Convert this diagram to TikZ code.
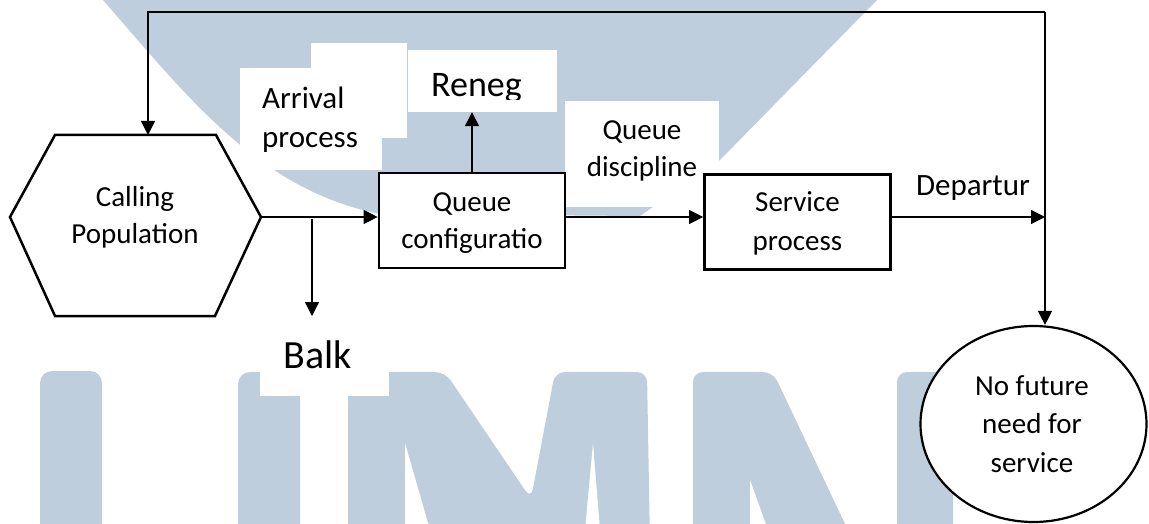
\documentclass[tikz,border=0pt]{standalone}
\usepackage{fontspec}
\setmainfont{Carlito}
\usetikzlibrary{arrows.meta,calc,shapes.geometric}
\definecolor{wm}{RGB}{191,206,220}
\begin{document}
\begin{tikzpicture}[x=1pt,y=-1pt,
  lbl/.style={font=\fontsize{29}{37}\selectfont, inner sep=0pt, align=center},
  procbox/.style={draw, line width=2.7pt, fill=white, inner sep=0pt},
  arr/.style={line width=1.3pt, -{Triangle[length=14pt,width=14pt]}},
  wbg/.style={fill=white}]
\useasboundingbox (0,0) rectangle (1149,524);
% watermark
\begin{scope}
\clip (0,0) rectangle (1149,524);
\fill[wm] (103,0) .. controls (190,100) and (260,190) .. (380,214) -- (640,216) -- (720,160) -- (877,0) -- cycle;
\fill[wm,rounded corners=12pt] (40,545) -- (40,371) -- (102,371) -- (102,545) -- cycle;
\fill[wm,rounded corners=12pt] (238,545) -- (238,372) -- (300,372) -- (300,545) -- cycle;
\fill[wm,rounded corners=10pt] (348,545) -- (348,372) -- (445,372) -- (531,499) -- (555,372) -- (647,372) -- (650,545) -- cycle;
\fill[white] (405,443) -- (405,530) -- (430,530) -- cycle;
\fill[white] (593,443) -- (585,530) -- (600,530) -- cycle;
\fill[wm,rounded corners=10pt] (693,545) -- (693,372) -- (773,372) -- (855,545) -- cycle;
\fill[white] (750,480) -- (750,530) -- (768,530) -- cycle;
\fill[wm,rounded corners=10pt] (897,545) -- (897,372) -- (953,372) -- (953,545) -- cycle;
\end{scope}
% label backgrounds
\fill[wbg] (311,43) rectangle (407,138);
\fill[wbg] (240,68) rectangle (382,170);
\fill[wbg] (565,101) rectangle (719,207);
\fill[wbg] (260,330) rectangle (389,396);
\node[wbg, minimum width=149pt, minimum height=62pt, inner sep=0pt] (renegbox) at (482.5,81) {};
% calling population hexagon
\coordinate (hW) at (10,217);
\coordinate (hNW) at (55,135);
\coordinate (hNE) at (216,135);
\coordinate (hE) at (261,217);
\coordinate (hSE) at (215,316);
\coordinate (hSW) at (55,316);
\draw[line width=2.5pt, fill=white, line join=miter] (hW) -- (hNW) -- (hNE) -- (hE) -- (hSE) -- (hSW) -- cycle;
\node[lbl, anchor=base] (calling) at (135,243) {Calling\\Population};
% boxes
\node[procbox, minimum width=186pt, minimum height=95pt] (qc) at (472,220.5) {};
\node[lbl, anchor=base] (qct) at (472,248) {Queue\\configuratio};
\node[procbox, minimum width=186pt, minimum height=95pt] (sp) at (797.5,222) {};
\node[lbl, anchor=base, font=\fontsize{29}{39}\selectfont] (spt) at (797.5,250) {Service\\process};
\node[draw, ellipse, line width=2.2pt, fill=white, minimum width=226pt, minimum height=196pt, inner sep=0pt] (nf) at (1033.5,424) {};
\node[lbl, anchor=base, font=\fontsize{29}{38.5}\selectfont] (nft) at (1032,472) {No future\\need for\\service};
% labels
\node[inner sep=0pt, anchor=base west, align=left, font=\fontsize{31}{39}\selectfont] (arrival) at (262,148) {Arrival\\process};
\node[lbl, anchor=base] (qd) at (642,177) {Queue\\discipline};
\node[inner sep=0pt, anchor=base, font=\fontsize{31}{39}\selectfont] (dep) at (973,195) {Departur};
\node[inner sep=0pt, anchor=base, font=\fontsize{40}{48}\selectfont] (balk) at (317.5,368) {Balk};
\begin{scope}
\clip (408,50) rectangle (557,100);
\node[inner sep=0pt, anchor=base, font=\fontsize{36}{44}\selectfont] (reneg) at (476.5,97) {Reneg};
\end{scope}
% connectors
\coordinate (tl) at (148,12);
\coordinate (tr) at (1045,12);
\coordinate (bk) at (312,219);
\coordinate (bktip) at (312,316);
\draw[arr] (hE) -- (hE -| qc.west);
\draw[arr] (bk) -- (bktip);
\draw[arr] (qc.north) -- (qc.north |- renegbox.south);
\draw[arr] (qc.east |- hE) -- (sp.west |- hE);
\draw[arr] (sp.east |- hE) -- (tr |- hE);
\draw[arr] (tr) -- (tl) -- (tl |- hNE);
\draw[arr] (tr) -- (tr |- nf.north);
\end{tikzpicture}
\end{document}
